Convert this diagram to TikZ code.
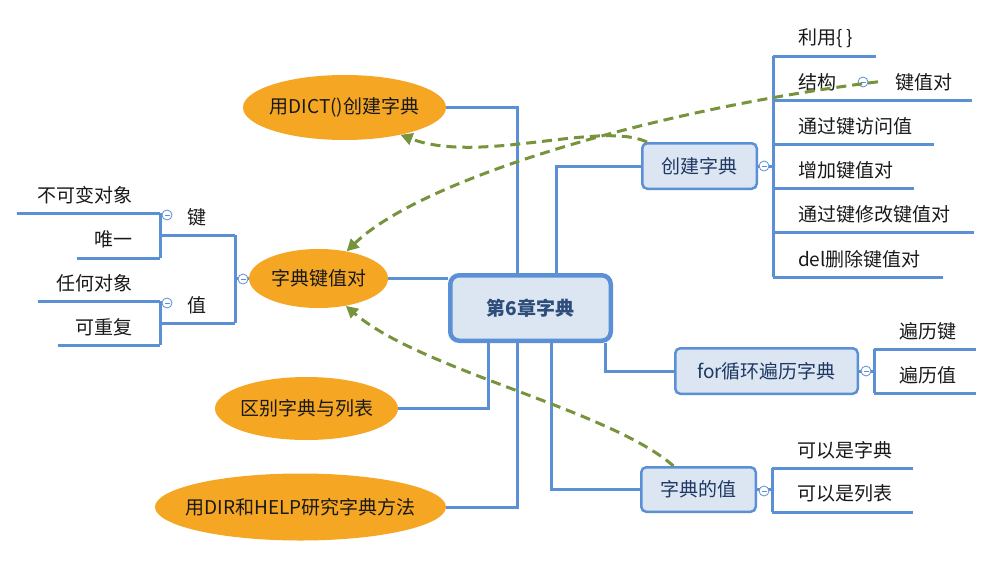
\documentclass[tikz,border=0pt]{standalone}
\usepackage{fontspec}
\setmainfont{Noto Sans CJK SC}
\usetikzlibrary{shapes.geometric,arrows.meta,backgrounds}
\definecolor{mapblue}{HTML}{5B8FD6}
\definecolor{maporange}{HTML}{F5A623}
\definecolor{boxfill}{HTML}{DCE6F2}
\definecolor{boxtext}{HTML}{1F3864}
\definecolor{roottext}{HTML}{2E4D7A}
\definecolor{relgreen}{HTML}{77933C}
\newcommand{\topictext}[1]{\makebox[0pt][c]{#1}}
\begin{document}
\begin{tikzpicture}[x=1pt,y=-1pt,
  font=\fontsize{19}{23}\selectfont, text=black!90,
  topic/.style={ellipse, fill=maporange, inner sep=0pt},
  subbox/.style={rectangle, rounded corners=5pt, draw=mapblue, line width=2.5pt,
    fill=boxfill, text=boxtext, inner sep=0pt},
  rootbox/.style={subbox, line width=4.5pt, rounded corners=9pt, text=roottext,
    font=\fontsize{19}{23}\selectfont\bfseries},
  link/.style={draw=mapblue, line width=3pt},
  leafR/.style={rectangle, inner sep=0pt, minimum height=36pt, minimum width=#1, anchor=south west},
  leafL/.style={rectangle, inner sep=0pt, minimum height=36pt, minimum width=#1, anchor=south east},
  tr/.style={anchor=west, xshift=#1, inner sep=0pt}, tr/.default=25pt,
  tl/.style={anchor=east, xshift=-27pt, inner sep=0pt},
  tog/.style={circle, draw=mapblue, fill=white, line width=0.8pt, minimum size=10pt, inner sep=0pt,
    path picture={\draw[mapblue, line width=0.8pt]
      ([xshift=-2.5pt]path picture bounding box.center) -- ([xshift=2.5pt]path picture bounding box.center);}},
  rel/.style={draw=relgreen, line width=3pt, dash pattern=on 10pt off 6pt,
    -{Triangle[length=12pt,width=12pt]}}]
\useasboundingbox (0,0) rectangle (993,560);

% central topic and main branches
\node[rootbox, minimum width=160.5pt, minimum height=65.5pt] (root) at (530.5,308) {第6章字典};
\node[topic, minimum width=203pt, minimum height=65pt] (dict) at (344.5,107.5) {\topictext{用DICT()创建字典}};
\node[topic, minimum width=139pt, minimum height=59pt] (kvp) at (318.5,278.5) {\topictext{字典键值对}};
\node[topic, minimum width=183pt, minimum height=63pt] (diff) at (306.5,408.5) {\topictext{区别字典与列表}};
\node[topic, minimum width=291pt, minimum height=67pt] (dir) at (300.5,507) {\topictext{用DIR和HELP研究字典方法}};
\node[subbox, minimum width=114.5pt, minimum height=45.5pt] (create) at (699.5,166) {创建字典};
\node[subbox, minimum width=182.5pt, minimum height=45.5pt] (loop) at (766.5,371) {for循环遍历字典};
\node[subbox, minimum width=114.5pt, minimum height=44.5pt] (val) at (698.5,489.5) {字典的值};

% leaves of 创建字典
\node[leafR=103pt, label={[tr]west:利用\{ \}}] (c1) at (773,56) {};
\node[leafR=82pt, label={[tr]west:结构}] (c2) at (773,100) {};
\node[leafR=117pt, label={[tr=40pt, name=kvt]west:键值对}] (c2a) at (855,100) {};
\node[leafR=161pt, label={[tr]west:通过键访问值}] (c3) at (773,144) {};
\node[leafR=141pt, label={[tr]west:增加键值对}] (c4) at (773,188) {};
\node[leafR=201pt, label={[tr]west:通过键修改键值对}] (c5) at (773,232) {};
\node[leafR=170pt, label={[tr]west:del删除键值对}] (c6) at (773,277) {};

% leaves of for循环遍历字典
\node[leafR=102pt, label={[tr]west:遍历键}] (l1) at (874,349) {};
\node[leafR=102pt, label={[tr]west:遍历值}] (l2) at (874,393) {};

% leaves of 字典的值
\node[leafR=141pt, label={[tr]west:可以是字典}] (w1) at (772,468) {};
\node[leafR=141pt, label={[tr]west:可以是列表}] (w2) at (772,512) {};

% leaves of 字典键值对
\node[leafL=75pt] (kk) at (235,235) {键};
\node[leafL=75pt] (vv) at (235,323) {值};
\node[leafL=143pt, label={[tl]east:不可变对象}] (k1) at (160,213) {};
\node[leafL=83pt, label={[tl]east:唯一}] (k2) at (160,258) {};
\node[leafL=122pt, label={[tl]east:任何对象}] (v1) at (160,301) {};
\node[leafL=102pt, label={[tl]east:可重复}] (v2) at (160,345) {};

% collapse toggles
\node[tog] (tc) at (764,166) {};
\node[tog] (ts) at (863,82) {};
\node[tog] (tl) at (866,371) {};
\node[tog] (tv) at (764,491) {};
\node[tog] (tk) at (243,279) {};
\node[tog] (tk1) at (167,215) {};
\node[tog] (tk2) at (167,303) {};

\begin{pgfonlayer}{background}
  \fill[white] (0,0) rectangle (993,560);
  % branches from the central topic
  \draw[link] (dict.east) -| ([xshift=-13.5pt]root.north);
  \draw[link] (create.west) -| ([xshift=25.5pt]root.north);
  \draw[link] (kvp.east) -- (kvp.east -| root.west);
  \draw[link] (diff.east) -| ([xshift=-42.5pt]root.south);
  \draw[link] (dir.east) -| ([xshift=-13.5pt]root.south);
  \draw[link] (val.west) -| ([xshift=20.5pt]root.south);
  \draw[link] (loop.west) -| ([xshift=74.5pt]root.south);
  % 创建字典 bracket
  \draw[link] (create.east) -- (c1.south west |- create.east);
  \draw[link] (c1.south west) -- (c6.south west);
  \foreach \n in {c1,c2,c2a,c3,c4,c5,c6,l1,l2,w1,w2,kk,vv,k1,k2,v1,v2}
    \draw[link] (\n.south west) -- (\n.south east);
  % for循环遍历字典 bracket
  \draw[link] (loop.east) -- (l1.south west |- loop.east);
  \draw[link] (l1.south west) -- (l2.south west);
  % 字典的值 bracket
  \draw[link] (val.east) -- (w1.south west |- val.east);
  \draw[link] (w1.south west) -- (w2.south west);
  % 字典键值对 brackets
  \draw[link] (kvp.west) -- (kk.south east |- kvp.west);
  \draw[link] (kk.south east) -- (vv.south east);
  \draw[link] (k1.south east) -- (k2.south east);
  \draw[link] (v1.south east) -- (v2.south east);
\end{pgfonlayer}

% relationship arrows
\draw[rel] ([xshift=6pt]create.north west) .. controls (600,120) and (480,165) .. (dict.-26);
\draw[rel] ([xshift=-17pt]kvt.west) .. controls (650,110) and (420,180) .. (kvp.44);
\draw[rel] ([xshift=-25pt]val.north) .. controls (610,410) and (420,370) .. (kvp.-45);
\end{tikzpicture}
\end{document}
